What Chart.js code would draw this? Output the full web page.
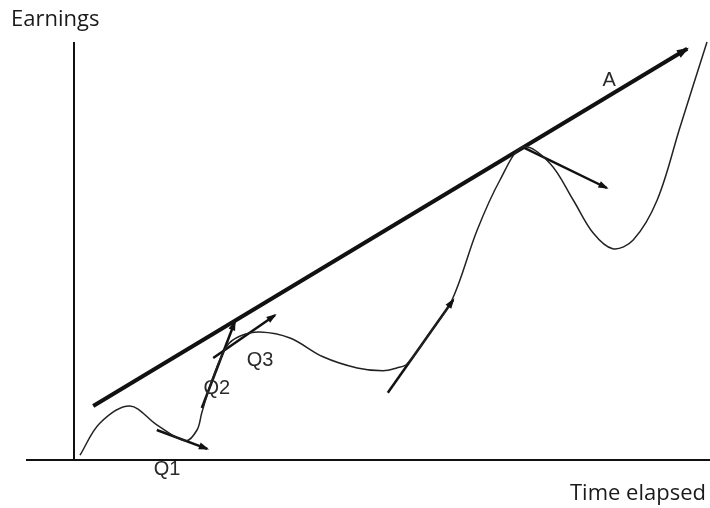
<!DOCTYPE html>
<html>
<head>
<meta charset="utf-8">
<script src="https://cdn.jsdelivr.net/npm/chart.js@4.4.1/dist/chart.umd.min.js"></script>
<style>
  html, body { margin: 0; padding: 0; background: #fff; }
  #wrap { width: 710px; height: 508px; position: relative; }
</style>
</head>
<body>
<div id="wrap"><canvas id="chart"></canvas></div>
<script>
// earnings path over time (arbitrary units)
const curveTime = [1, 4.3, 9.3, 13.8, 18.6, 20.5, 21.3, 23, 25.5, 27.7, 31, 36, 41.5, 47.2, 51.5, 53.8, 55.5, 59.3, 63, 67.2, 71, 74.8, 79.3, 83.2, 86.5, 89.8, 93.2, 97.2, 101, 105.5];
const curveEarnings = [1.2, 9.2, 13.5, 8.8, 4.8, 7.5, 11.8, 20, 28.5, 31, 32, 30.5, 25.8, 23, 22.3, 23, 24, 31.8, 40, 57.5, 70, 78.2, 74.2, 65, 56.8, 52.8, 55, 65, 83.2, 104.5];

// long-run trend line A
const trendTime = [3.2, 102.2];
const trendEarnings = [13.5, 102.8];

// tangent arrows: [startTime, startEarnings, endTime, endEarnings]
const tangentArrows = [
  [13.8, 7.5, 22.2, 2.8],
  [21.3, 13, 26.8, 34.5],
  [23.2, 25.5, 33.5, 36.2],
  [52.3, 16.8, 63.2, 40],
  [74.8, 78.2, 88.8, 68],
];

// annotation labels
const labelNames = ['Q1', 'Q2', 'Q3', 'A'];
const labelTime = [15.5, 23.8, 31, 89.2];
const labelEarnings = [-2.3, 18, 25, 94.8];

const ink = '#111';

function toPoints(xs, ys) {
  return xs.map((x, i) => ({ x, y: ys[i] }));
}

const datasets = [
  {
    label: 'axes-y',
    data: [{ x: 0, y: 104.5 }, { x: 0, y: 0 }],
    borderColor: ink, borderWidth: 2, pointRadius: 0, clip: false,
  },
  {
    label: 'axes-x',
    data: [{ x: -8, y: 0 }, { x: 106, y: 0 }],
    borderColor: ink, borderWidth: 2, pointRadius: 0, clip: false,
  },
  {
    label: 'earnings',
    data: toPoints(curveTime, curveEarnings),
    borderColor: '#222', borderWidth: 1.5, pointRadius: 0,
    tension: 0.35, clip: false,
  },
  {
    label: 'A',
    data: toPoints(trendTime, trendEarnings),
    borderColor: ink, borderWidth: 4, pointRadius: 0, clip: false, arrow: 11,
  },
];

tangentArrows.forEach((a, i) => {
  datasets.push({
    label: 'tangent ' + (i + 1),
    data: [{ x: a[0], y: a[1] }, { x: a[2], y: a[3] }],
    borderColor: ink, borderWidth: 2.5, pointRadius: 0, clip: false, arrow: 9,
  });
});

const arrowHeads = {
  id: 'arrowHeads',
  afterDatasetsDraw(chart) {
    const ctx = chart.ctx;
    chart.data.datasets.forEach((ds, i) => {
      if (!ds.arrow) {
        return;
      }
      const pts = chart.getDatasetMeta(i).data;
      const p0 = pts[pts.length - 2];
      const p1 = pts[pts.length - 1];
      const ang = Math.atan2(p1.y - p0.y, p1.x - p0.x);
      const len = ds.arrow;
      ctx.save();
      ctx.fillStyle = ink;
      ctx.beginPath();
      ctx.moveTo(p1.x + Math.cos(ang) * 2, p1.y + Math.sin(ang) * 2);
      ctx.lineTo(p1.x - Math.cos(ang - 0.4) * len, p1.y - Math.sin(ang - 0.4) * len);
      ctx.lineTo(p1.x - Math.cos(ang + 0.4) * len, p1.y - Math.sin(ang + 0.4) * len);
      ctx.closePath();
      ctx.fill();
      ctx.restore();
    });
  }
};

const textLabels = {
  id: 'textLabels',
  afterDraw(chart) {
    const ctx = chart.ctx;
    const xs = chart.scales.x;
    const ys = chart.scales.y;
    ctx.save();
    ctx.fillStyle = '#2a2a2a';
    ctx.textAlign = 'center';
    ctx.textBaseline = 'middle';
    ctx.font = '20px "Liberation Sans", Arial, sans-serif';
    labelNames.forEach((name, i) => {
      ctx.fillText(name, xs.getPixelForValue(labelTime[i]), ys.getPixelForValue(labelEarnings[i]));
    });
    ctx.font = '22px "Open Sans", "Noto Sans", sans-serif';
    ctx.fillStyle = '#1a1a1a';
    ctx.textAlign = 'left';
    ctx.fillText('Earnings', 11, 20);
    ctx.textAlign = 'right';
    ctx.fillText('Time elapsed', 706, 494);
    ctx.restore();
  }
};

new Chart(document.getElementById('chart'), {
  type: 'line',
  data: { datasets },
  options: {
    responsive: true,
    maintainAspectRatio: false,
    animation: false,
    layout: { padding: { left: 74, right: 0, top: 0, bottom: 48 } },
    plugins: { legend: { display: false }, tooltip: { enabled: false } },
    scales: {
      x: { type: 'linear', min: 0, max: 106, display: false },
      y: { type: 'linear', min: 0, max: 115, display: false },
    },
  },
  plugins: [arrowHeads, textLabels],
});
</script>
</body>
</html>
